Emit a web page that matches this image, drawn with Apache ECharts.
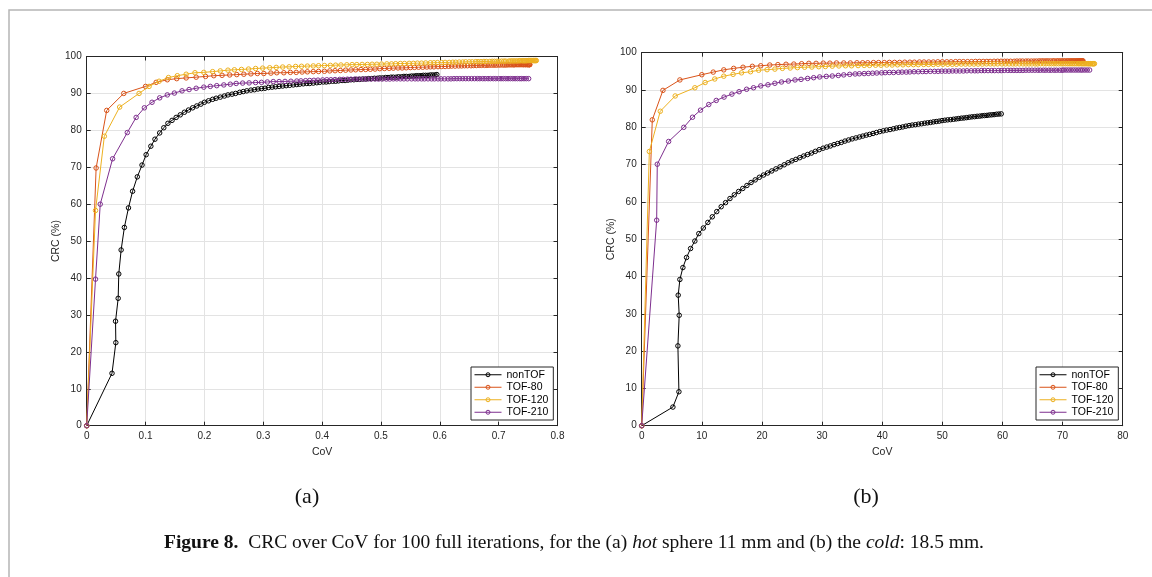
<!DOCTYPE html>
<html>
<head>
<meta charset="utf-8">
<script src="https://cdn.jsdelivr.net/npm/echarts@6/dist/echarts.min.js"></script>
<style>
  html, body { margin: 0; padding: 0; background: #fff; }
  #chart { width: 1152px; height: 577px; }
</style>
</head>
<body>
<div id="chart"></div>
<script>
// ---- series names, colours and axis ticks ----
const seriesNames = ['nonTOF', 'TOF-80', 'TOF-120', 'TOF-210'];
const seriesColors = ['#000000', '#D95319', '#EDB120', '#7E2F8E'];
const hotCovTicks = [0, 0.1, 0.2, 0.3, 0.4, 0.5, 0.6, 0.7, 0.8];
const coldCovTicks = [0, 10, 20, 30, 40, 50, 60, 70, 80];
const crcTicks = [0, 10, 20, 30, 40, 50, 60, 70, 80, 90, 100];

// ---- (a) hot sphere 11 mm: [CoV, CRC %] per iteration ----
const hotNonTOF = [[0,0],[0.043,14.2],[0.0495,22.5],[0.049,28.3],[0.0535,34.5],[0.0545,41.1],[0.0585,47.6],[0.064,53.7],[0.071,59.0],[0.078,63.5],[0.086,67.4],[0.094,70.6],[0.101,73.4],[0.109,75.7],[0.116,77.6],[0.124,79.3],[0.131,80.7],[0.138,81.9],
  [0.145,82.7],[0.152,83.5],[0.159,84.2],[0.166,84.9],[0.173,85.5],[0.180,86.1],[0.187,86.6],[0.194,87.1],[0.200,87.6],[0.207,88.0],[0.214,88.4],[0.220,88.7],[0.227,89.0],[0.234,89.3],[0.240,89.6],[0.247,89.8],[0.253,90.0],[0.260,90.3],[0.266,90.5],[0.272,90.7],[0.279,90.9],[0.285,91.0],[0.291,91.2],[0.297,91.3],[0.303,91.4],[0.309,91.6],[0.315,91.7],[0.321,91.8],[0.327,91.9],[0.333,92.0],[0.339,92.1],[0.345,92.2],[0.351,92.3],[0.357,92.4],[0.362,92.5],[0.368,92.6],[0.374,92.7],[0.379,92.7],[0.385,92.8],[0.391,92.9],[0.396,93.0],[0.402,93.1],[0.407,93.1],[0.412,93.2],[0.418,93.3],[0.423,93.3],[0.428,93.4],[0.434,93.5],[0.439,93.5],[0.444,93.6],[0.449,93.7],[0.454,93.7],[0.459,93.8],[0.464,93.8],[0.469,93.9],[0.474,93.9],[0.479,94.0],[0.484,94.0],[0.489,94.1],[0.494,94.1],[0.498,94.2],[0.503,94.2],[0.508,94.3],[0.512,94.3],[0.517,94.4],[0.521,94.4],[0.526,94.4],[0.530,94.5],[0.535,94.5],[0.539,94.6],[0.543,94.6],[0.548,94.6],[0.552,94.7],[0.556,94.7],[0.560,94.8],[0.564,94.8],[0.568,94.8],[0.572,94.9],[0.576,94.9],[0.580,94.9],[0.584,95.0],[0.588,95.0],[0.592,95.0],[0.595,95.1]];

const hotTOF80 = [[0,0],[0.016,69.8],[0.034,85.4],[0.063,90.0],[0.100,91.9],[0.118,93.0],[0.137,93.7],[0.153,94.0],[0.169,94.2],[0.186,94.4],[0.202,94.6],[0.216,94.8],[0.230,94.9],[0.243,95.0],[0.255,95.1],[0.267,95.2],[0.279,95.3],[0.290,95.4],[0.301,95.4],[0.313,95.5],[0.323,95.6],[0.335,95.6],[0.346,95.7],[0.356,95.7],
  [0.366,95.8],[0.375,95.85],[0.385,95.9],[0.394,95.95],[0.404,96.0],[0.413,96.1],[0.422,96.15],[0.431,96.2],[0.440,96.3],[0.449,96.35],[0.457,96.4],[0.466,96.45],[0.474,96.5],[0.482,96.55],[0.490,96.6],[0.498,96.7],[0.506,96.75],[0.514,96.8],[0.521,96.85],[0.529,96.9],[0.536,96.9],[0.543,96.95],[0.550,97.0],[0.557,97.05],[0.564,97.1],[0.571,97.1],[0.578,97.15],[0.584,97.2],[0.590,97.2],[0.597,97.25],[0.603,97.3],[0.609,97.3],[0.615,97.35],[0.620,97.4],[0.626,97.4],[0.632,97.45],[0.637,97.45],[0.642,97.5],[0.647,97.5],[0.653,97.5],[0.657,97.55],[0.662,97.55],[0.667,97.6],[0.671,97.6],[0.676,97.6],[0.680,97.6],[0.684,97.65],[0.688,97.65],[0.692,97.65],[0.696,97.65],[0.700,97.7],[0.703,97.7],[0.707,97.7],[0.710,97.7],[0.713,97.7],[0.716,97.75],[0.719,97.75],[0.722,97.75],[0.725,97.75],[0.727,97.75],[0.730,97.8],[0.732,97.8],[0.734,97.8],[0.736,97.8],[0.738,97.8],[0.740,97.8],[0.742,97.8],[0.743,97.8],[0.745,97.8],[0.746,97.8],[0.748,97.8],[0.749,97.8],[0.750,97.8],[0.751,97.8],[0.752,97.8],[0.7525,97.8],[0.753,97.8]];

const hotTOF120 = [[0,0],[0.015,58.3],[0.030,78.4],[0.056,86.3],[0.089,90.0],[0.106,91.9],[0.123,93.3],[0.139,94.3],[0.154,94.8],[0.169,95.2],[0.184,95.6],[0.199,95.7],[0.214,95.9],[0.227,96.1],[0.240,96.3],[0.251,96.4],[0.263,96.5],[0.275,96.6],[0.287,96.75],[0.299,96.85],[0.311,96.95],[0.322,97.05],[0.333,97.15],[0.344,97.2],[0.355,97.3],
  [0.365,97.35],[0.375,97.4],[0.385,97.45],[0.394,97.5],[0.404,97.55],[0.414,97.6],[0.423,97.65],[0.432,97.7],[0.442,97.75],[0.451,97.8],[0.459,97.8],[0.468,97.85],[0.477,97.85],[0.485,97.9],[0.493,97.9],[0.501,97.95],[0.510,98.0],[0.518,98.0],[0.525,98.05],[0.533,98.1],[0.540,98.1],[0.548,98.15],[0.555,98.15],[0.562,98.2],[0.569,98.2],[0.576,98.25],[0.584,98.3],[0.590,98.3],[0.596,98.35],[0.603,98.35],[0.609,98.4],[0.616,98.4],[0.622,98.45],[0.627,98.45],[0.633,98.5],[0.639,98.5],[0.644,98.55],[0.650,98.55],[0.655,98.55],[0.661,98.6],[0.665,98.6],[0.670,98.6],[0.675,98.65],[0.679,98.65],[0.685,98.65],[0.689,98.7],[0.693,98.7],[0.697,98.7],[0.701,98.7],[0.705,98.75],[0.709,98.75],[0.712,98.75],[0.717,98.75],[0.720,98.8],[0.723,98.8],[0.726,98.8],[0.729,98.8],[0.732,98.8],[0.735,98.85],[0.737,98.85],[0.740,98.85],[0.742,98.85],[0.744,98.85],[0.746,98.85],[0.748,98.85],[0.751,98.9],[0.753,98.9],[0.754,98.9],[0.756,98.9],[0.757,98.9],[0.759,98.9],[0.760,98.9],[0.761,98.9],[0.762,98.9],[0.763,98.9],[0.764,98.9]];

const hotTOF210 = [[0,0],[0.015,39.7],[0.023,60.0],[0.044,72.3],[0.069,79.4],[0.084,83.5],[0.098,86.1],[0.111,87.6],[0.124,88.8],[0.137,89.6],[0.149,90.1],[0.162,90.7],[0.174,91.05],[0.186,91.4],[0.199,91.7],[0.210,91.9],[0.221,92.1],[0.233,92.3],[0.244,92.5],[0.254,92.7],[0.265,92.8],[0.276,92.85],[0.287,92.95],[0.297,93.0],[0.307,93.1],[0.317,93.2],[0.327,93.2],[0.337,93.25],[0.347,93.3],[0.357,93.35],
  [0.364,93.4],[0.372,93.45],[0.379,93.5],[0.386,93.55],[0.393,93.6],[0.401,93.65],[0.408,93.7],[0.415,93.7],[0.422,93.75],[0.430,93.8],[0.436,93.8],[0.443,93.85],[0.449,93.85],[0.456,93.9],[0.463,93.9],[0.470,93.9],[0.476,93.9],[0.483,93.9],[0.490,93.9],[0.496,93.9],[0.502,93.9],[0.509,93.9],[0.515,93.9],[0.521,93.95],[0.527,93.95],[0.533,93.95],[0.539,93.95],[0.545,93.95],[0.552,93.95],[0.558,93.95],[0.563,93.95],[0.569,93.95],[0.574,93.95],[0.580,93.95],[0.586,93.95],[0.591,93.95],[0.597,93.95],[0.602,93.95],[0.608,93.95],[0.614,93.95],[0.619,93.95],[0.624,94.0],[0.629,94.0],[0.634,94.0],[0.639,94.0],[0.644,94.0],[0.649,94.0],[0.654,94.0],[0.659,94.0],[0.664,94.0],[0.668,94.0],[0.673,94.0],[0.677,94.0],[0.682,94.0],[0.686,94.0],[0.691,94.0],[0.695,94.0],[0.700,94.0],[0.704,94.0],[0.708,94.0],[0.712,94.0],[0.716,94.0],[0.720,94.0],[0.724,94.0],[0.728,94.0],[0.732,94.0],[0.736,94.0],[0.739,94.0],[0.743,94.0],[0.747,94.0],[0.751,94.0]];

// ---- (b) cold sphere 18.5 mm: [CoV, CRC %] per iteration ----
const coldNonTOF = [[0,0],[5.19,5.0],[6.19,9.1],[6.02,21.4],[6.24,29.6],[6.07,35.0],[6.35,39.2],[6.85,42.4],[7.46,45.1],[8.13,47.5],[8.84,49.5],[9.50,51.5],
  [10.25,53.0],[11.0,54.5],[11.74,56.0],[12.48,57.4],[13.22,58.7],[13.95,59.8],[14.68,60.9],[15.40,61.9],[16.12,62.8],[16.81,63.6],[17.50,64.4],[18.19,65.2],[18.88,65.9],[19.57,66.6],[20.26,67.2],[20.94,67.75],[21.63,68.3],[22.32,68.85],[23.01,69.4],[23.70,69.95],[24.35,70.5],[24.99,71.0],[25.64,71.4],[26.29,71.85],[26.94,72.3],[27.58,72.7],[28.23,73.1],[28.88,73.55],[29.52,74.0],[30.17,74.4],[30.78,74.7],[31.38,75.0],[31.99,75.35],[32.59,75.65],[33.20,75.95],[33.80,76.3],[34.41,76.6],[35.01,76.9],[35.62,77.15],[36.22,77.4],[36.78,77.65],[37.35,77.9],[37.91,78.1],[38.48,78.35],[39.04,78.6],[39.60,78.85],[40.17,79.05],[40.73,79.25],[41.30,79.4],[41.86,79.6],[42.38,79.8],[42.90,79.95],[43.42,80.1],[43.94,80.3],[44.47,80.45],[44.99,80.6],[45.51,80.7],[46.03,80.85],[46.55,80.95],[47.07,81.1],[47.55,81.2],[48.03,81.3],[48.51,81.45],[48.99,81.55],[49.47,81.65],[49.94,81.8],[50.42,81.9],[50.90,82.0],[51.38,82.05],[51.86,82.15],[52.30,82.25],[52.73,82.35],[53.17,82.45],[53.61,82.5],[54.05,82.6],[54.48,82.7],[54.92,82.8],[55.36,82.85],[55.79,82.95],[56.23,83.0],[56.63,83.1],[57.02,83.15],[57.42,83.2],[57.82,83.3],[58.22,83.35],[58.61,83.4],[59.01,83.5],[59.41,83.55],[59.80,83.6]];

const coldTOF80 = [[0,0],[1.76,82.0],[3.53,89.9],[6.35,92.7],[10.0,94.1],[11.9,94.8],[13.65,95.4],[15.3,95.8],[16.85,96.1],[18.4,96.35],[19.8,96.5],[21.3,96.7],[22.65,96.8],[24.0,96.9],[25.3,96.95],[26.6,97.05],[27.8,97.15],[29.0,97.15],[30.2,97.2],[31.3,97.2],[32.4,97.25],[33.6,97.25],[34.7,97.25],[35.8,97.3],
  [36.75,97.3],[37.6,97.3],[38.55,97.35],[39.4,97.35],[40.35,97.35],[41.2,97.4],[42.05,97.4],[42.9,97.4],[43.75,97.45],[44.6,97.45],[45.35,97.45],[46.2,97.5],[46.95,97.5],[47.75,97.5],[48.5,97.5],[49.25,97.55],[50.0,97.55],[50.75,97.55],[51.45,97.55],[52.2,97.6],[52.85,97.6],[53.5,97.6],[54.2,97.6],[54.85,97.6],[55.5,97.65],[56.15,97.65],[56.8,97.65],[57.4,97.65],[57.95,97.65],[58.6,97.7],[59.2,97.7],[59.75,97.7],[60.35,97.7],[60.8,97.7],[61.35,97.7],[61.95,97.7],[62.4,97.75],[62.9,97.75],[63.35,97.75],[63.9,97.75],[64.3,97.75],[64.8,97.75],[65.25,97.75],[65.65,97.75],[66.1,97.8],[66.5,97.8],[66.85,97.8],[67.25,97.8],[67.6,97.8],[68.0,97.8],[68.4,97.8],[68.65,97.8],[69.05,97.8],[69.3,97.8],[69.6,97.8],[69.9,97.8],[70.2,97.8],[70.45,97.8],[70.75,97.8],[70.95,97.8],[71.2,97.8],[71.4,97.8],[71.6,97.8],[71.8,97.8],[71.95,97.8],[72.15,97.8],[72.35,97.8],[72.45,97.8],[72.65,97.8],[72.75,97.8],[72.9,97.8],[73.0,97.8],[73.1,97.8],[73.2,97.8],[73.25,97.8],[73.3,97.8],[73.4,97.8]];

const coldTOF120 = [[0,0],[1.27,73.5],[3.09,84.3],[5.57,88.4],[8.84,90.6],[10.55,92.0],[12.15,92.95],[13.65,93.7],[15.2,94.2],[16.6,94.6],[18.1,94.9],[19.45,95.3],[20.85,95.45],[22.15,95.6],[23.4,95.8],[24.7,95.9],[25.9,96.0],[27.1,96.1],[28.3,96.15],[29.45,96.25],[30.55,96.3],[31.7,96.4],[32.8,96.45],[33.9,96.5],[34.9,96.5],[36.0,96.55],
  [37.0,96.6],[37.9,96.6],[38.9,96.65],[39.8,96.65],[40.75,96.7],[41.65,96.7],[42.55,96.75],[43.45,96.75],[44.35,96.8],[45.2,96.8],[46.0,96.8],[46.9,96.85],[47.7,96.85],[48.5,96.85],[49.3,96.9],[50.1,96.9],[50.9,96.9],[51.65,96.9],[52.35,96.9],[53.15,96.95],[53.85,96.95],[54.55,96.95],[55.25,96.95],[55.95,96.95],[56.65,96.95],[57.35,97.0],[58.0,97.0],[58.6,97.0],[59.2,97.0],[59.9,97.0],[60.5,97.0],[61.1,97.0],[61.7,97.0],[62.2,97.0],[62.8,97.0],[63.4,97.0],[63.9,97.0],[64.4,97.0],[64.9,97.0],[65.45,97.0],[65.85,97.0],[66.35,97.05],[66.85,97.05],[67.25,97.05],[67.75,97.05],[68.15,97.05],[68.55,97.05],[68.95,97.05],[69.35,97.05],[69.75,97.05],[70.1,97.05],[70.45,97.05],[70.8,97.05],[71.1,97.05],[71.4,97.05],[71.7,97.05],[72.0,97.05],[72.3,97.05],[72.6,97.05],[72.8,97.05],[73.1,97.05],[73.3,97.05],[73.5,97.05],[73.7,97.05],[73.9,97.05],[74.1,97.05],[74.3,97.05],[74.4,97.05],[74.6,97.05],[74.7,97.05],[74.9,97.05],[75.0,97.05],[75.1,97.05],[75.2,97.05],[75.3,97.05]];

const coldTOF210 = [[0,0],[2.49,55.1],[2.59,70.1],[4.48,76.2],[7.0,80.0],[8.45,82.7],[9.78,84.6],[11.15,86.1],[12.4,87.2],[13.7,88.1],[15.0,88.9],[16.2,89.55],[17.45,90.2],[18.6,90.6],[19.8,91.1],[21.0,91.4],[22.15,91.8],[23.25,92.15],[24.4,92.4],[25.5,92.7],[26.5,92.85],[27.6,93.1],[28.6,93.3],[29.6,93.5],[30.7,93.65],[31.7,93.75],[32.7,93.9],[33.6,94.05],[34.6,94.2],[35.5,94.3],
  [36.2,94.35],[37.0,94.4],[37.7,94.45],[38.4,94.5],[39.1,94.55],[39.9,94.6],[40.5,94.65],[41.2,94.7],[41.9,94.7],[42.7,94.75],[43.3,94.8],[44.0,94.8],[44.6,94.85],[45.3,94.9],[46.0,94.9],[46.7,94.95],[47.3,94.95],[48.0,95.0],[48.7,95.0],[49.3,95.0],[49.9,95.05],[50.5,95.05],[51.1,95.05],[51.7,95.1],[52.3,95.1],[52.9,95.1],[53.5,95.1],[54.1,95.15],[54.8,95.15],[55.4,95.15],[55.9,95.15],[56.5,95.2],[57.0,95.2],[57.6,95.2],[58.2,95.2],[58.7,95.2],[59.3,95.2],[59.8,95.2],[60.3,95.25],[60.9,95.25],[61.4,95.25],[61.9,95.25],[62.4,95.25],[62.9,95.25],[63.4,95.25],[63.9,95.3],[64.4,95.3],[64.9,95.3],[65.4,95.3],[65.9,95.3],[66.3,95.3],[66.8,95.3],[67.2,95.3],[67.7,95.3],[68.1,95.3],[68.6,95.3],[69.0,95.3],[69.5,95.3],[69.9,95.3],[70.2,95.35],[70.6,95.35],[71.0,95.35],[71.4,95.35],[71.8,95.35],[72.2,95.35],[72.6,95.35],[73.0,95.35],[73.3,95.35],[73.7,95.35],[74.1,95.35],[74.5,95.35]];

const hotData = [hotNonTOF, hotTOF80, hotTOF120, hotTOF210];
const coldData = [coldNonTOF, coldTOF80, coldTOF120, coldTOF210];

// ---- styling helpers ----
const AXIS_COLOR = '#262626';
const SANS = '"Liberation Sans", Arial, Helvetica, sans-serif';
const SERIF = '"Liberation Serif", "Times New Roman", serif';

function mainAxis(gi, ticks, pos, name, nameGap) {
  const isX = pos === 'bottom';
  return {
    gridIndex: gi, type: 'value', position: pos,
    min: ticks[0], max: ticks[ticks.length - 1], interval: ticks[1] - ticks[0],
    name: name, nameLocation: 'middle', nameGap: nameGap, nameRotate: isX ? 0 : 90,
    nameTextStyle: { fontFamily: SANS, fontSize: 10.5, color: AXIS_COLOR },
    axisLine: { show: true, onZero: false, lineStyle: { color: AXIS_COLOR, width: 1 } },
    axisTick: { show: true, inside: true, length: 4, lineStyle: { color: AXIS_COLOR, width: 1 } },
    axisLabel: { show: true, margin: isX ? 6 : 5, fontFamily: SANS, fontSize: 10, color: AXIS_COLOR,
      showMinLabel: true, showMaxLabel: true, hideOverlap: false },
    splitLine: { show: true, lineStyle: { color: '#e3e3e3', width: 1 } },
    minorTick: { show: false }
  };
}
function boxAxis(gi, ticks, pos) {
  return {
    gridIndex: gi, type: 'value', position: pos,
    min: ticks[0], max: ticks[ticks.length - 1], interval: ticks[1] - ticks[0],
    axisLine: { show: true, onZero: false, lineStyle: { color: AXIS_COLOR, width: 1 } },
    axisTick: { show: true, inside: true, length: 4, lineStyle: { color: AXIS_COLOR, width: 1 } },
    axisLabel: { show: false },
    splitLine: { show: false }
  };
}
function makeSeries(dataSets, xIdx, yIdx) {
  return dataSets.map((d, i) => ({
    type: 'line', name: seriesNames[i], data: d,
    xAxisIndex: xIdx, yAxisIndex: yIdx,
    symbol: 'circle', symbolSize: 4.5, showSymbol: true, showAllSymbol: true,
    itemStyle: { color: 'rgba(255,255,255,0)', borderColor: seriesColors[i], borderWidth: 1 },
    lineStyle: { color: seriesColors[i], width: 1 },
    emphasis: { disabled: true }, silent: true, clip: true, z: 2 + i
  }));
}
function makeLegend(left) {
  return {
    left: left, top: 367, orient: 'vertical', selectedMode: false,
    itemWidth: 27, itemHeight: 5, itemGap: 1, padding: [2, 5, 2, 3],
    borderColor: AXIS_COLOR, borderWidth: 1, backgroundColor: '#ffffff',
    lineStyle: { width: 1 },
    itemStyle: { borderWidth: 1 },
    textStyle: { fontFamily: SANS, fontSize: 10.5, color: '#000', lineHeight: 11.5 },
    data: seriesNames
  };
}

const option = {
  animation: false,
  backgroundColor: '#ffffff',
  grid: [
    { left: 86.7, top: 56.5, width: 470.8, height: 369.2, show: false, outerBoundsMode: 'none' },
    { left: 641.7, top: 52.7, width: 481, height: 373, show: false, outerBoundsMode: 'none' }
  ],
  xAxis: [
    mainAxis(0, hotCovTicks, 'bottom', 'CoV', 14),
    boxAxis(0, hotCovTicks, 'top'),
    mainAxis(1, coldCovTicks, 'bottom', 'CoV', 14),
    boxAxis(1, coldCovTicks, 'top')
  ],
  yAxis: [
    mainAxis(0, crcTicks, 'left', 'CRC (%)', 20),
    boxAxis(0, crcTicks, 'right'),
    mainAxis(1, crcTicks, 'left', 'CRC (%)', 20),
    boxAxis(1, crcTicks, 'right')
  ],
  legend: [makeLegend(471), makeLegend(1036)],
  series: [].concat(makeSeries(hotData, 0, 0), makeSeries(coldData, 2, 2)),
  graphic: [
    { type: 'rect', silent: true, shape: { x: 9, y: 10, width: 1200, height: 620 },
      style: { fill: 'none', stroke: '#b5b5b5', lineWidth: 1.5 } },
    { type: 'text', silent: true, x: 307, y: 497,
      style: { text: '(a)', fontFamily: SERIF, fontSize: 22, fill: '#111', align: 'center', verticalAlign: 'middle' } },
    { type: 'text', silent: true, x: 866, y: 497,
      style: { text: '(b)', fontFamily: SERIF, fontSize: 22, fill: '#111', align: 'center', verticalAlign: 'middle' } },
    { type: 'text', silent: true, x: 574, y: 543,
      style: {
        text: '{b|Figure 8.}{n|  CRC over CoV for 100 full iterations, for the (a) }{i|hot}{n| sphere 11 mm and (b) the }{i|cold}{n|: 18.5 mm.}',
        align: 'center', verticalAlign: 'middle', fill: '#111',
        rich: {
          b: { fontFamily: SERIF, fontSize: 19.5, fontWeight: 'bold', fill: '#111' },
          n: { fontFamily: SERIF, fontSize: 19.5, fill: '#111' },
          i: { fontFamily: SERIF, fontSize: 19.5, fontStyle: 'italic', fill: '#111' }
        }
      } }
  ]
};

const chart = echarts.init(document.getElementById('chart'), null, { renderer: 'canvas' });
chart.setOption(option);
</script>
</body>
</html>
